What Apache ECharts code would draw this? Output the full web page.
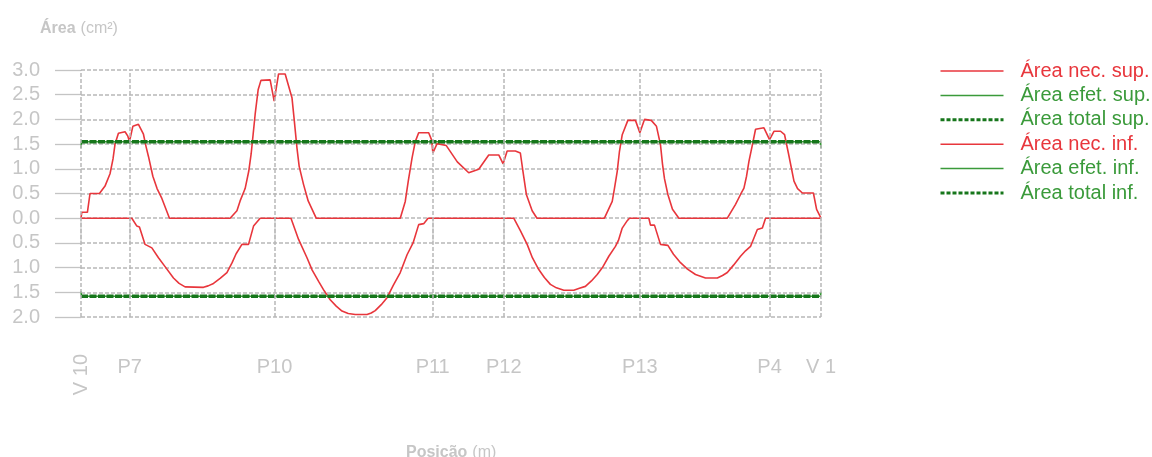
<!DOCTYPE html>
<html>
<head>
<meta charset="utf-8">
<script src="https://cdn.jsdelivr.net/npm/echarts@6/dist/echarts.min.js"></script>
<style>
html,body{margin:0;padding:0;background:#fff;}
#chart{width:1152px;height:457px;}
</style>
</head>
<body>
<div id="chart"></div>
<script>
// Support positions (m) and names
const supportPos = [0, 2.43, 9.67, 17.57, 21.12, 27.92, 34.40, 36.97];
const supportNames = ['V 10', 'P7', 'P10', 'P11', 'P12', 'P13', 'P4', 'V 1'];

// Área nec. sup. (cm²) : posição (m) / área
const necSupX = [0.00,0.04,0.32,0.45,0.92,1.20,1.45,1.60,1.70,1.87,2.20,2.34,2.42,2.59,2.87,3.12,3.25,3.37,3.59,3.80,4.04,4.42,
  7.45,7.79,7.95,8.20,8.38,8.50,8.60,8.70,8.85,8.99,9.45,9.65,9.87,10.20,10.54,10.65,10.79,10.90,11.12,11.35,11.75,
  15.95,16.20,16.35,16.54,16.70,16.87,17.37,17.52,17.58,17.79,18.25,18.80,19.37,19.87,20.37,20.87,21.09,21.29,21.70,21.95,22.08,22.25,22.54,22.78,
  26.15,26.54,26.65,26.79,26.90,27.04,27.32,27.70,27.92,28.15,28.49,28.75,28.95,29.05,29.15,29.32,29.55,29.87,
  32.29,32.70,32.95,33.12,33.25,33.37,33.55,33.70,33.79,34.12,34.40,34.62,34.95,35.15,35.35,35.62,35.80,36.04,36.59,36.75,36.97];
const necSupY = [0,0.12,0.12,0.5,0.5,0.65,0.9,1.2,1.5,1.72,1.75,1.66,1.55,1.86,1.9,1.7,1.45,1.25,0.85,0.6,0.4,0,
  0,0.15,0.35,0.6,0.95,1.3,1.7,2.1,2.6,2.79,2.8,2.37,2.92,2.92,2.44,2.0,1.42,1.05,0.68,0.35,0,
  0,0.34,0.75,1.22,1.55,1.73,1.73,1.58,1.32,1.51,1.47,1.14,0.92,0.99,1.28,1.28,1.1,1.36,1.36,1.32,0.95,0.48,0.15,0,
  0,0.34,0.6,0.95,1.35,1.69,1.98,1.98,1.73,2.0,1.98,1.86,1.49,1.1,0.8,0.48,0.18,0,
  0,0.28,0.48,0.61,0.85,1.15,1.5,1.8,1.83,1.83,1.59,1.76,1.76,1.69,1.3,0.75,0.6,0.51,0.51,0.18,0];

// Área nec. inf. (cm², drawn downward)
const necInfX = [0,2.54,2.79,2.92,3.20,3.54,3.87,4.20,4.62,4.90,5.20,6.12,6.35,6.62,6.95,7.29,7.55,7.75,8.04,8.37,8.62,8.95,
  10.49,10.87,11.29,11.55,11.87,12.15,12.45,12.75,13.04,13.35,13.70,14.29,14.50,14.70,15.00,15.29,15.60,15.95,16.29,16.59,16.87,17.12,17.34,
  21.62,21.95,22.29,22.55,22.87,23.15,23.45,23.75,24.12,24.62,24.90,25.20,25.50,25.79,26.05,26.37,26.70,26.85,27.04,27.29,27.40,
  28.37,28.45,28.65,28.95,29.32,29.60,29.95,30.30,30.70,31.20,31.79,32.05,32.29,32.60,32.95,33.20,33.45,33.60,33.79,34.04,34.20,36.97];
const necInfY = [0,0,-0.16,-0.18,-0.53,-0.6,-0.8,-0.98,-1.21,-1.32,-1.39,-1.4,-1.37,-1.32,-1.22,-1.1,-0.9,-0.72,-0.53,-0.53,-0.16,0,
  0,-0.43,-0.8,-1.05,-1.28,-1.47,-1.65,-1.78,-1.88,-1.93,-1.95,-1.95,-1.92,-1.87,-1.75,-1.61,-1.36,-1.1,-0.74,-0.5,-0.13,-0.11,0,
  0,-0.25,-0.53,-0.8,-1.04,-1.2,-1.34,-1.41,-1.46,-1.46,-1.42,-1.38,-1.27,-1.14,-1.0,-0.77,-0.57,-0.45,-0.2,-0.05,0,
  0,-0.14,-0.14,-0.53,-0.55,-0.73,-0.9,-1.03,-1.14,-1.21,-1.21,-1.16,-1.1,-0.95,-0.77,-0.66,-0.57,-0.42,-0.23,-0.2,0,0];

// Área efetiva / total
const efetSupX = [0, 0.02, 36.95, 36.97];
const efetSupY = [1.42, 1.55, 1.55, 1.42];
const totalSupX = [0, 36.97];
const totalSupY = [1.55, 1.55];
const efetInfX = [0, 0.02, 36.95, 36.97];
const efetInfY = [-1.48, -1.58, -1.58, -1.49];
const totalInfX = [0, 36.97];
const totalInfY = [-1.58, -1.58];

const RED = '#e8363c';
const GREEN = '#3a9a3a';
const DKGREEN = '#16761b';
const GRAY = '#c6c6c6';
const zip = (xs, ys) => xs.map((x, i) => [x, ys[i]]);

const chart = echarts.init(document.getElementById('chart'), null, {renderer: 'canvas'});
const FONT = 'Liberation Sans, Arial, sans-serif';

function lineSeries(name, xs, ys, color, width, type, extra) {
  return Object.assign({
    name: name, type: 'line', data: zip(xs, ys), symbol: 'none', showSymbol: false,
    lineStyle: {color: color, width: width, type: type}, itemStyle: {color: color},
    animation: false, z: 3
  }, extra || {});
}

const titleRich = {
  b: {fontSize: 16, fontWeight: 'bold', color: GRAY, fontFamily: FONT},
  n: {fontSize: 16, fontWeight: 'normal', color: GRAY, fontFamily: FONT}
};

const option = {
  animation: false,
  textStyle: {fontFamily: FONT},
  title: [
    {text: '{b|Área} {n|(cm²)}', left: 35, top: 15, textStyle: {fontWeight: 'normal', rich: titleRich}},
    {text: '{b|Posição} {n|(m)}', left: 401, top: 439, textStyle: {fontWeight: 'normal', rich: titleRich}}
  ],
  grid: {left: 81, right: 331, top: 70, bottom: 140, containLabel: false},
  legend: {
    orient: 'vertical', left: 934, top: 56, itemWidth: 63, itemHeight: 14, itemGap: 4.4,
    itemStyle: {opacity: 0},
    textStyle: {fontSize: 20, fontFamily: FONT, padding: [0, 0, 0, 12]},
    data: [
      {name: 'Área nec. sup.', textStyle: {color: RED}, lineStyle: {width: 1.5}},
      {name: 'Área efet. sup.', textStyle: {color: GREEN}, lineStyle: {width: 1.5}},
      {name: 'Área total sup.', textStyle: {color: GREEN}, lineStyle: {width: 3, type: [4, 2]}},
      {name: 'Área nec. inf.', textStyle: {color: RED}, lineStyle: {width: 1.5}},
      {name: 'Área efet. inf.', textStyle: {color: GREEN}, lineStyle: {width: 1.5}},
      {name: 'Área total inf.', textStyle: {color: GREEN}, lineStyle: {width: 3, type: [4, 2]}}
    ]
  },
  xAxis: [
    {type: 'value', min: 0, max: 36.97, position: 'bottom',
     axisLine: {show: false}, splitLine: {show: false},
     axisTick: {show: true, length: 23, customValues: supportPos, lineStyle: {color: '#d6d6d6', width: 1.5}},
     axisLabel: {show: true, customValues: supportPos.slice(1), margin: 40, fontSize: 20, color: GRAY, fontFamily: FONT,
       formatter: v => { const i = supportPos.findIndex(p => Math.abs(p - v) < 1e-6); return i >= 0 ? supportNames[i] : ''; }}
    },
    {type: 'value', min: 0, max: 36.97, position: 'bottom',
     axisLine: {show: false}, splitLine: {show: false}, axisTick: {show: false},
     axisLabel: {show: true, customValues: [0], rotate: 90, margin: 37, fontSize: 20, color: GRAY, fontFamily: FONT,
       formatter: () => supportNames[0]}
    }
  ],
  yAxis: {
    type: 'value', min: -2, max: 3, interval: 0.5,
    axisLine: {show: false},
    axisTick: {show: true, length: 26, lineStyle: {color: '#c4c4c4', width: 1.3}},
    axisLabel: {margin: 41, fontSize: 20, color: GRAY, fontFamily: FONT,
      formatter: v => Math.abs(v).toFixed(1)},
    splitLine: {show: true, lineStyle: {color: '#b8b8b8', width: 1.5, type: [4, 2]}}
  },
  series: [
    lineSeries('Área nec. sup.', necSupX, necSupY, RED, 1.6, 'solid', {
      markLine: {silent: true, symbol: 'none', label: {show: false}, animation: false,
        lineStyle: {color: '#b8b8b8', width: 1.5, type: [4, 2]},
        data: supportPos.map(p => ({xAxis: p}))}
    }),
    lineSeries('Área efet. sup.', efetSupX, efetSupY, GREEN, 1.5, 'solid'),
    lineSeries('Área total sup.', totalSupX, totalSupY, DKGREEN, 3.5, [7, 1.5]),
    lineSeries('Área nec. inf.', necInfX, necInfY, RED, 1.6, 'solid'),
    lineSeries('Área efet. inf.', efetInfX, efetInfY, GREEN, 1.5, 'solid'),
    lineSeries('Área total inf.', totalInfX, totalInfY, DKGREEN, 3.5, [7, 1.5])
  ]
};
chart.setOption(option);
</script>
</body>
</html>
